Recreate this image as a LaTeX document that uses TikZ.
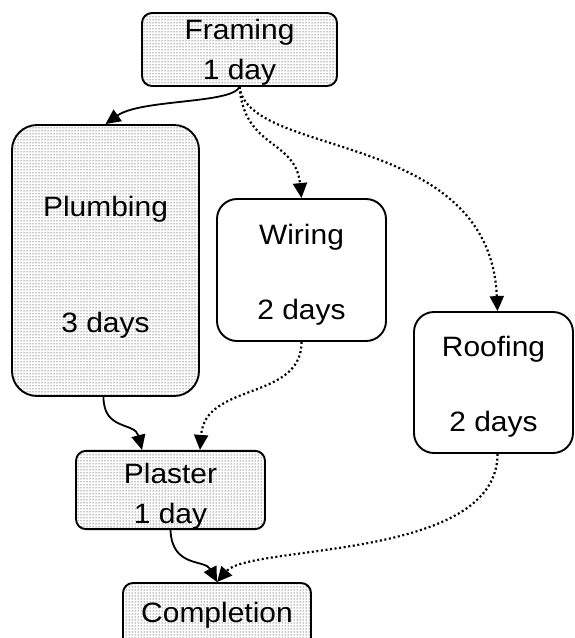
\documentclass[tikz,border=0pt]{standalone}
\usepackage{fontspec}
\setmainfont{Liberation Sans}[FakeStretch=1.07]
\usetikzlibrary{arrows.meta,patterns}

\tikzset{
  task/.style={draw=black, line width=1.9pt, inner sep=0pt, align=center,
    font=\fontsize{28}{40}\selectfont},
  done/.style={task, pattern=dots, pattern color=black},
  open/.style={task, fill=white},
  link/.style={line width=1.8pt, -{Triangle[length=15pt,width=14pt]}},
  maybe/.style={link, line width=2.2pt, dash pattern=on 2pt off 2.6pt},
}

\begin{document}
\begin{tikzpicture}[x=1pt,y=-1pt]
  \useasboundingbox (0,0) rectangle (574,638);

  % tasks
  \node[done, rounded corners=10pt, minimum width=195pt, minimum height=73pt, text height=66.5pt]
    (framing) at (239.5,49.5) {Framing\\1 day};
  \node[done, rounded corners=25pt, minimum width=187pt, minimum height=271pt, text height=150pt]
    (plumbing) at (105.5,260.5) {Plumbing\\[76pt]3 days};
  \node[open, rounded corners=20pt, minimum width=169pt, minimum height=142pt, text height=105.5pt]
    (wiring) at (301.5,270) {Wiring\\[35pt]2 days};
  \node[open, rounded corners=20pt, minimum width=159pt, minimum height=141pt, text height=104.5pt]
    (roofing) at (493.5,382.5) {Roofing\\[35pt]2 days};
  \node[done, rounded corners=10pt, minimum width=189pt, minimum height=74pt, text height=72.5pt]
    (plaster) at (170.5,490) {Plaster\\1 day};
  \node[done, rounded corners=10pt, minimum width=188pt, minimum height=73pt, text depth=14pt]
    (completion) at (217,619.5) {Completion};

  % dependencies
  \draw[link] (framing.south) .. controls +(-8,17) and +(35,-25) .. (plumbing.north);
  \draw[maybe] (framing.south) .. controls +(5,62) and +(-6,-59) .. (wiring.north);
  \draw[maybe] (framing.south) .. controls +(10,72) and +(-8,-182) .. ([xshift=4pt]roofing.north);
  \draw[link] ([xshift=-2pt]plumbing.south) .. controls +(0,34) and +(-7,-28) .. ([xshift=-28.5pt]plaster.north);
  \draw[maybe] (wiring.south) .. controls +(0,59) and +(5,-68) .. ([xshift=29.5pt]plaster.north);
  \draw[link] (plaster.south) .. controls +(1.5,38) and +(-12,-23) .. (completion.north);
  \draw[maybe] ([xshift=4pt]roofing.south) .. controls +(0,107) and +(33,-38) .. (completion.north);
\end{tikzpicture}
\end{document}
